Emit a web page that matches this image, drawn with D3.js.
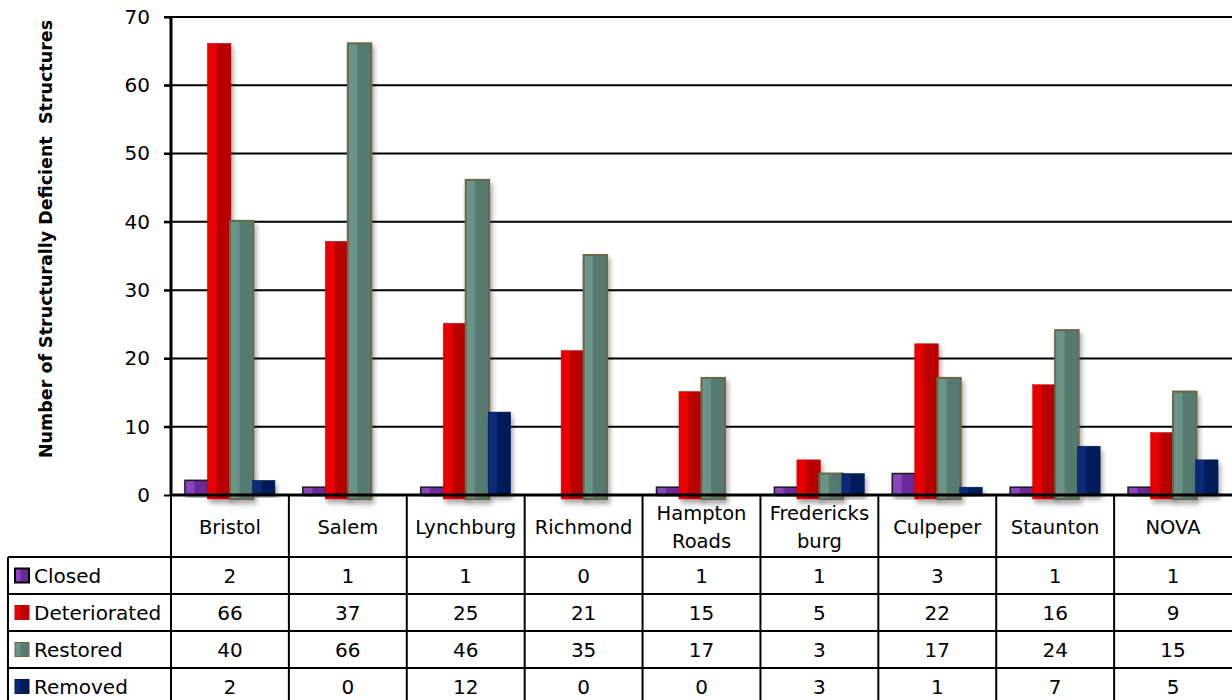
<!DOCTYPE html>
<html><head><meta charset="utf-8">
<script src="https://cdn.jsdelivr.net/npm/d3@7"></script>
<style>body{margin:0;background:#fff}svg{display:block}text{font-family:"DejaVu Sans",sans-serif;fill:#000}</style>
</head><body><svg id="c" width="1232" height="700"></svg>
<script>
const categories = ["Bristol","Salem","Lynchburg","Richmond","Hampton Roads","Fredericks burg","Culpeper","Staunton","NOVA"];
const categoryLines = [["Bristol"],["Salem"],["Lynchburg"],["Richmond"],["Hampton","Roads"],["Fredericks","burg"],["Culpeper"],["Staunton"],["NOVA"]];
const seriesNames = ["Closed","Deteriorated","Restored","Removed"];
const closed = [2,1,1,0,1,1,3,1,1];
const deteriorated = [66,37,25,21,15,5,22,16,9];
const restored = [40,66,46,35,17,3,17,24,15];
const removed = [2,0,12,0,0,3,1,7,5];
const yTicks = [0,10,20,30,40,50,60,70];
const yTitle = "Number of Structurally Deficient  Structures";

const seriesValues = [closed, deteriorated, restored, removed];
const colors = {
  Closed:{light:"#8a44c0",dark:"#6a2a98",stroke:"#1a1a1a"},
  Deteriorated:{light:"#e80000",dark:"#b80000",stroke:"#d00000"},
  Restored:{light:"#6a9488",dark:"#567a70",stroke:"#6b6848"},
  Removed:{light:"#0a2a78",dark:"#001a58",stroke:"#00185a"}
};

const svg = d3.select("#c");
const L = 171, R = 1232, T = 17, B = 495;
const y = d3.scaleLinear().domain([0,70]).range([B,T]);
const x0 = d3.scaleBand().domain(categories).range([L,R]).paddingInner(0).paddingOuter(0);
const x1 = d3.scaleBand().domain(seriesNames).range([0,x0.bandwidth()]).paddingInner(0).paddingOuter(0.62);

const defs = svg.append("defs");
seriesNames.forEach((s,i)=>{
  const g = defs.append("linearGradient").attr("id","g"+i).attr("x1","0").attr("x2","1").attr("y1","0").attr("y2","0");
  g.append("stop").attr("offset","0").attr("stop-color",colors[s].light);
  g.append("stop").attr("offset","0.35").attr("stop-color",colors[s].light);
  g.append("stop").attr("offset","0.45").attr("stop-color",colors[s].dark);
  g.append("stop").attr("offset","1").attr("stop-color",colors[s].dark);
});
const f = defs.append("filter").attr("id","sh").attr("x","-30%").attr("y","-10%").attr("width","160%").attr("height","130%");
f.append("feDropShadow").attr("dx",2).attr("dy",4).attr("stdDeviation",2.5).attr("flood-color","#000").attr("flood-opacity",0.35);

svg.append("g").selectAll("line").data(yTicks.filter(d=>d>0)).join("line")
  .attr("x1",L-7).attr("x2",R).attr("y1",d=>y(d)).attr("y2",d=>y(d))
  .attr("stroke","#000").attr("stroke-width",2);

const yAxis = d3.axisLeft(y).tickValues(yTicks).tickSize(7).tickPadding(14).tickFormat(d3.format("d"));
const ya = svg.append("g").attr("transform",`translate(${L},0)`).call(yAxis);
ya.select(".domain").remove();
ya.selectAll("line").attr("stroke","#000").attr("stroke-width",2);
ya.selectAll("text").attr("font-size",20).attr("font-family","DejaVu Sans, sans-serif").attr("fill","#000");
svg.append("line").attr("x1",L).attr("x2",L).attr("y1",T-1).attr("y2",B).attr("stroke","#000").attr("stroke-width",3);

svg.append("text").attr("transform",`translate(52,239) rotate(-90)`).attr("text-anchor","middle")
  .attr("font-size",17.5).attr("font-weight","bold").style("white-space","pre").text(yTitle);

const bars = svg.append("g");
seriesNames.forEach((s,i)=>{
  bars.append("g").selectAll("rect").data(seriesValues[i].map((v,j)=>({v,c:categories[j]})).filter(d=>d.v>0)).join("rect")
    .attr("x",d=>x0(d.c)+x1(s)).attr("width",x1.bandwidth()+ (i<3?1:0))
    .attr("y",d=>y(d.v)-1).attr("height",d=>B-y(d.v)+1+((i===1||i===2)?4:0))
    .attr("fill",`url(#g${i})`).attr("stroke",colors[s].stroke).attr("stroke-width",i===2?2:(i===0?1.5:0.5))
    .attr("filter","url(#sh)");
});

svg.append("line").attr("x1",L).attr("x2",R).attr("y1",B).attr("y2",B).attr("stroke","#000").attr("stroke-width",3);

const rowH = 37, hdrB = 557;
const rowY = d3.range(5).map(i=>hdrB+i*rowH);
const tg = svg.append("g");
rowY.forEach(yy=>{
  tg.append("line").attr("x1",8).attr("x2",R).attr("y1",yy).attr("y2",yy).attr("stroke","#000").attr("stroke-width",2);
});
categories.forEach(c=>{
  tg.append("line").attr("x1",x0(c)).attr("x2",x0(c)).attr("y1",B).attr("y2",700).attr("stroke","#000").attr("stroke-width",2);
});
tg.append("line").attr("x1",8).attr("x2",8).attr("y1",hdrB).attr("y2",700).attr("stroke","#000").attr("stroke-width",2);

categories.forEach((c,j)=>{
  const lines = categoryLines[j];
  const cx = x0(c)+x0.bandwidth()/2;
  const cy = (B+hdrB)/2;
  lines.forEach((t,k)=>{
    tg.append("text").attr("x",cx).attr("y",cy+1+(k-(lines.length-1)/2)*28).attr("dy","0.35em")
      .attr("text-anchor","middle").attr("font-size",19.5).text(t);
  });
});
seriesNames.forEach((s,i)=>{
  const cy = rowY[i]+rowH/2;
  tg.append("rect").attr("x",15).attr("y",cy-7).attr("width",14).attr("height",14)
    .attr("fill",`url(#g${i})`).attr("stroke",i===0?"#000":colors[s].stroke).attr("stroke-width",i===0?2:1);
  tg.append("text").attr("x",34).attr("y",cy).attr("dy","0.35em").attr("font-size",20).text(s);
  seriesValues[i].forEach((v,j)=>{
    tg.append("text").attr("x",x0(categories[j])+x0.bandwidth()/2).attr("y",cy).attr("dy","0.35em")
      .attr("text-anchor","middle").attr("font-size",20).text(v);
  });
});
</script></body></html>
